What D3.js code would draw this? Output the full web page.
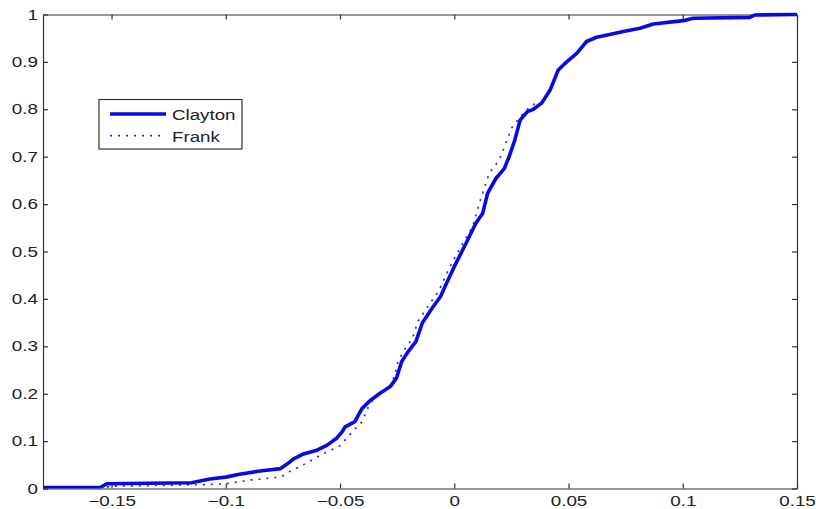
<!DOCTYPE html>
<html>
<head>
<meta charset="utf-8">
<script src="https://cdn.jsdelivr.net/npm/d3@7"></script>
<style>
  body { margin: 0; background: #fff; }
  svg { display: block; font-family: "Liberation Sans", Arial, sans-serif; }
</style>
</head>
<body>
<div id="chart"></div>
<script>
var claytonX = [-0.18, -0.155, -0.152, -0.115, -0.107, -0.100, -0.094, -0.085, -0.076, -0.073, -0.0705,
  -0.066, -0.0605, -0.0558, -0.0515, -0.049, -0.0478, -0.0435, -0.0405, -0.0369, -0.0325, -0.028,
  -0.0252, -0.023, -0.020, -0.0168, -0.014, -0.0092, -0.006, -0.0034, 0.0, 0.0051, 0.0095, 0.0124,
  0.0146, 0.0182, 0.0219, 0.024, 0.0265, 0.0288, 0.032, 0.0346, 0.0382, 0.0419, 0.0455, 0.0492,
  0.0536, 0.0579, 0.0623, 0.068, 0.074, 0.0813, 0.0871, 0.1002, 0.1046, 0.1294, 0.1316, 0.15];
var claytonY = [0.002, 0.002, 0.010, 0.012, 0.020, 0.024, 0.030, 0.037, 0.042, 0.052, 0.062,
  0.073, 0.080, 0.091, 0.106, 0.120, 0.130, 0.141, 0.168, 0.185, 0.201, 0.215,
  0.234, 0.268, 0.290, 0.310, 0.349, 0.384, 0.405, 0.433, 0.468, 0.517, 0.560, 0.580,
  0.623, 0.654, 0.675, 0.700, 0.735, 0.777, 0.795, 0.800, 0.813, 0.840, 0.883, 0.900,
  0.918, 0.943, 0.952, 0.958, 0.964, 0.971, 0.980, 0.987, 0.992, 0.994, 0.999, 1.000];

var frankX = [-0.18, -0.153, -0.150, -0.111, -0.100, -0.089, -0.076, -0.0705, -0.0675, -0.0588, -0.050,
  -0.0442, -0.0405, -0.0369, -0.033, -0.028, -0.0262, -0.0245, -0.0215, -0.0182, -0.016, -0.011,
  -0.007, -0.0019, 0.004, 0.008, 0.011, 0.0153, 0.0197, 0.022, 0.025, 0.0288, 0.0339, 0.0382,
  0.0419, 0.0455, 0.0492, 0.0536, 0.0579, 0.0623, 0.068, 0.074, 0.0813, 0.0871, 0.1002, 0.1046,
  0.1294, 0.1316, 0.15];
var frankY = [0.001, 0.002, 0.005, 0.008, 0.010, 0.018, 0.024, 0.040, 0.046, 0.070, 0.090,
  0.122, 0.140, 0.180, 0.198, 0.218, 0.236, 0.270, 0.295, 0.318, 0.352, 0.388,
  0.415, 0.468, 0.520, 0.552, 0.602, 0.665, 0.693, 0.721, 0.760, 0.784, 0.809, 0.815,
  0.842, 0.883, 0.900, 0.918, 0.943, 0.952, 0.958, 0.964, 0.971, 0.980, 0.987, 0.992,
  0.994, 0.999, 1.000];

var xTicks = [-0.15, -0.1, -0.05, 0, 0.05, 0.1, 0.15];
var xTickLabels = ["\u22120.15", "\u22120.1", "\u22120.05", "0", "0.05", "0.1", "0.15"];
var yTicks = [0, 0.1, 0.2, 0.3, 0.4, 0.5, 0.6, 0.7, 0.8, 0.9, 1];
var yTickLabels = ["0", "0.1", "0.2", "0.3", "0.4", "0.5", "0.6", "0.7", "0.8", "0.9", "1"];

var seriesNames = ["Clayton", "Frank"];

var svgWidth = 816, svgHeight = 509;
var plotLeft = 43, plotRight = 797, plotTop = 14.5, plotBottom = 488.5;
var stretch = 1.3; // the source figure is stretched sideways

var svg = d3.select("#chart").append("svg")
  .attr("width", svgWidth)
  .attr("height", svgHeight);

var x = d3.scaleLinear().domain([-0.18, 0.15]).range([plotLeft, plotRight]);
var y = d3.scaleLinear().domain([0, 1]).range([plotBottom, plotTop]);

// axes, ticks point inward on all four sides
var axisColor = "#333";

var gBottom = svg.append("g")
  .attr("transform", `translate(0,${plotBottom})`)
  .call(d3.axisBottom(x).tickValues(xTicks).tickFormat((d, i) => xTickLabels[i])
    .tickSizeInner(-5).tickSizeOuter(0));
gBottom.selectAll("text")
  .attr("y", 17.5).attr("dy", null)
  .attr("transform", `scale(${stretch},1)`);

var gTop = svg.append("g")
  .attr("transform", `translate(0,${plotTop})`)
  .call(d3.axisTop(x).tickValues(xTicks).tickFormat("").tickSizeInner(-5).tickSizeOuter(0));

var gLeft = svg.append("g")
  .attr("transform", `translate(${plotLeft},0)`)
  .call(d3.axisLeft(y).tickValues(yTicks).tickFormat((d, i) => yTickLabels[i])
    .tickSizeInner(-5).tickSizeOuter(0));
gLeft.selectAll("text")
  .attr("x", -5 / stretch)
  .attr("transform", `scale(${stretch},1)`);

var gRight = svg.append("g")
  .attr("transform", `translate(${plotRight},0)`)
  .call(d3.axisRight(y).tickValues(yTicks).tickFormat("").tickSizeInner(-5).tickSizeOuter(0));

[gBottom, gTop, gLeft, gRight].forEach(function(g) {
  g.selectAll("path.domain").attr("stroke", axisColor).attr("stroke-width", 1.2);
  g.selectAll(".tick line").attr("stroke", axisColor).attr("stroke-width", 1.2);
  g.selectAll("text").attr("fill", "#222").style("font-size", "14.5px")
    .style("font-family", "'Liberation Sans', Arial, sans-serif");
});

// clip
svg.append("clipPath").attr("id", "plotclip")
  .append("rect").attr("x", plotLeft).attr("y", plotTop - 3)
  .attr("width", plotRight - plotLeft).attr("height", plotBottom - plotTop + 3);

var line = d3.line()
  .x(d => x(d[0]))
  .y(d => y(d[1]));

var frankData = frankX.map((v, i) => [v, frankY[i]]);
var claytonData = claytonX.map((v, i) => [v, claytonY[i]]);

svg.append("path")
  .datum(frankData)
  .attr("clip-path", "url(#plotclip)")
  .attr("fill", "none")
  .attr("stroke", "#2a2ae6")
  .attr("stroke-width", 1.7)
  .attr("stroke-dasharray", "2,6")
  .attr("d", line);

svg.append("path")
  .datum(claytonData)
  .attr("clip-path", "url(#plotclip)")
  .attr("fill", "none")
  .attr("stroke", "#0a0ae0")
  .attr("stroke-width", 3.6)
  .attr("stroke-linejoin", "round")
  .attr("d", line);

// legend
var legend = svg.append("g");
legend.append("rect")
  .attr("x", 99).attr("y", 99.5).attr("width", 143).attr("height", 49.5)
  .attr("fill", "#fff").attr("stroke", axisColor).attr("stroke-width", 1.2);

var legendRows = [
  { name: seriesNames[0], y: 114, color: "#0a0ae0", width: 3.6, dash: null, base: 120 },
  { name: seriesNames[1], y: 135.7, color: "#2a2ae6", width: 1.7, dash: "2,6", base: 141.5 }
];
legendRows.forEach(function(r) {
  legend.append("line")
    .attr("x1", 110).attr("x2", 166).attr("y1", r.y).attr("y2", r.y)
    .attr("stroke", r.color).attr("stroke-width", r.width)
    .attr("stroke-dasharray", r.dash);
  legend.append("text")
    .attr("transform", `translate(172,${r.base}) scale(1.25,1)`)
    .style("font-size", "15px")
    .attr("fill", "#222")
    .text(r.name);
});
</script>
</body>
</html>
